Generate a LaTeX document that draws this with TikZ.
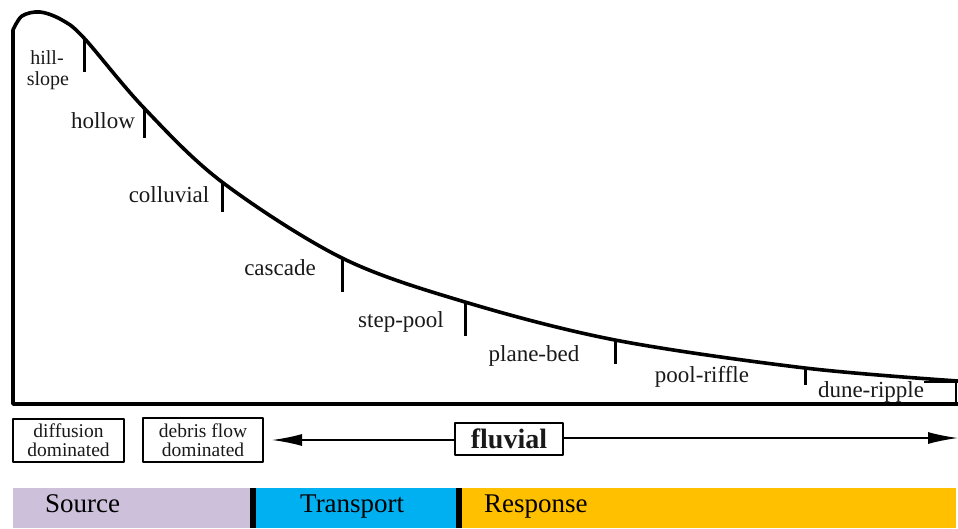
\documentclass[tikz,border=0pt]{standalone}
\usepackage{fontspec}
\setmainfont{Liberation Serif}
\usetikzlibrary{arrows.meta}

\definecolor{srcpurple}{RGB}{204,192,218}
\definecolor{trnblue}{RGB}{0,176,240}
\definecolor{rspyellow}{RGB}{255,192,0}

\begin{document}
\begin{tikzpicture}[
    x=1pt, y=-1pt,
    reach/.style={font=\fontsize{23}{23}\selectfont, text=black!90, inner sep=0pt, anchor=base},
    regime/.style={draw, line width=2.6pt, inner sep=0pt, align=center,
      font=\fontsize{19.5}{19}\selectfont, text=black!90},
    zone/.style={font=\fontsize{27}{27}\selectfont, inner sep=0pt, anchor=base west},
  line join=round]

  \useasboundingbox (0,0) rectangle (958,528);

  % long profile
  \draw [line width=3.6pt] (958,404) -- (13,404) -- (13,30) --
    plot [smooth, tension=.55] coordinates {(13,30) (22,16) (40,12) (62,20) (84,38)
      (144,108) (222,182) (342,258) (465,302) (615,340) (805,368) (958,381)};
  \draw [line width=1.2pt] (924,382) -- (956,382) -- (956,404);

  % reach boundaries
  \foreach \x/\y/\b in {84/38/72, 144/108/138, 222/182/212, 342/258/292,
      465/302/336, 615/340/364, 805/368/385}{
    \draw [line width=3pt] (\x,\y) -- (\x,\b);
  }

  % reach labels
  \node [reach, font=\fontsize{20}{20}\selectfont] (hill) at (47,64) {hill-};
  \node [reach, font=\fontsize{20}{20}\selectfont] (slope) at (48,85) {slope};
  \node [reach] (hollow) at (103,128) {hollow};
  \node [reach] (colluvial) at (169,202) {colluvial};
  \node [reach] (cascade) at (280,275) {cascade};
  \node [reach] (steppool) at (401,327) {step-pool};
  \node [reach] (planebed) at (534,361) {plane-bed};
  \node [reach] (poolriffle) at (702,382) {pool-riffle};
  \node [reach] (duneripple) at (871,397) {dune-ripple};

  % process regimes
  \node [regime, minimum width=111pt, minimum height=43pt] (diffusion) at (68.5,440.5)
    {diffusion\\dominated};
  \node [regime, minimum width=120pt, minimum height=44pt] (debris) at (203,440)
    {debris flow\\dominated};
  \node [regime, minimum width=108pt, minimum height=32pt,
    font=\fontsize{28}{28}\selectfont\bfseries] (fluvial) at (509,439) {fluvial};

  \coordinate (fluvW) at (272,440);
  \coordinate (fluvE) at (958,438);
  \draw [-{Latex[length=30pt,width=12pt]}, line width=1.6pt] (fluvial.west |- fluvW) -- (fluvW);
  \draw [-{Latex[length=30pt,width=12pt]}, line width=1.6pt] (fluvial.east |- fluvE) -- (fluvE);

  % source / transport / response
  \fill [srcpurple] (13,488) rectangle (250,528);
  \fill [black] (250,488) rectangle (256,528);
  \fill [trnblue] (256,488) rectangle (456,528);
  \fill [black] (456,488) rectangle (462,528);
  \fill [rspyellow] (462,488) rectangle (956,528);

  \node [zone] (source) at (45,512) {Source};
  \node [zone] (transport) at (300,512) {Transport};
  \node [zone] (response) at (484,512) {Response};
\end{tikzpicture}
\end{document}
